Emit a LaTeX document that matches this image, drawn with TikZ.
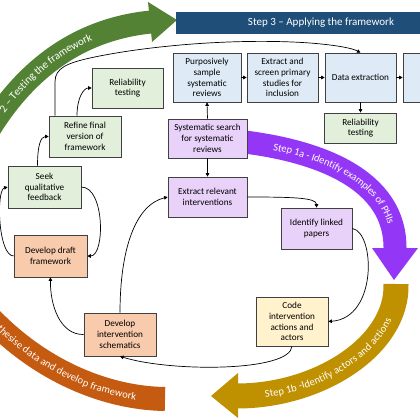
\documentclass[tikz,border=0pt]{standalone}
\usepackage{fontspec}
\setmainfont{Carlito}
\usetikzlibrary{arrows.meta,decorations.text}
\definecolor{boxgreen}{HTML}{E2EFDA}
\definecolor{boxblue}{HTML}{DEEBF7}
\definecolor{boxpurple}{HTML}{E9D2FA}
\definecolor{boxorange}{HTML}{F8CBAD}
\definecolor{boxgold}{HTML}{FFF2CC}
\definecolor{bannerblue}{HTML}{1F4E79}
\definecolor{arrgreen}{HTML}{548235}
\definecolor{arrpurple}{HTML}{9436F5}
\definecolor{arrgold}{HTML}{BF9000}
\definecolor{arrorange}{HTML}{C55A11}
\newcommand\bxfont{\fontsize{9.2}{10.8}\selectfont}
\newcommand\arwfont{\color{white}\fontsize{10.5}{12}\selectfont}
\newcommand\arwbigfont{\color{white}\fontsize{11}{12}\selectfont}
\newcommand\bnrfont{\fontsize{11}{13}\selectfont}
\begin{document}
\begin{tikzpicture}[x=1pt,y=-1pt,
  box/.style={draw=black!75, line width=0.6pt, align=center, inner sep=0pt, font=\bxfont},
  gbox/.style={box, fill=boxgreen},
  bbox/.style={box, fill=boxblue},
  pbox/.style={box, fill=boxpurple},
  obox/.style={box, fill=boxorange},
  ybox/.style={box, fill=boxgold},
  conn/.style={draw=black, line width=0.7pt, -{Triangle[length=3.6pt,width=3.6pt]}},
  band/.style={line width=#1, line cap=butt},
]
\useasboundingbox (0,0) rectangle (420,420);

% big process arrows
\draw[band=23pt, arrgreen] (-30,165) .. controls (10,80) and (70,30) .. (151,22);
\fill[arrgreen] (148,2) -- (177,20) -- (152,42) -- cycle;
\path[decorate, decoration={text along path, text={|\arwbigfont|2 – Testing the framework}, text align={right, right indent=62pt}, raise=-3.7pt}]
  (-30,165) .. controls (10,80) and (70,30) .. (151,22);

\draw[band=23pt, arrpurple] (236,141) .. controls (320,150) and (396,180) .. (395,249);
\fill[arrpurple] (372,248) -- (394,280) -- (418,248) -- cycle;
\path[decorate, decoration={text along path, text={|\arwfont|Step 1a - Identify examples of PHIs}, text align={left, left indent=38pt}, raise=-3.5pt}]
  (236,141) .. controls (320,150) and (396,180) .. (395,249);

\draw[band=25pt, arrgold] (396,284) .. controls (398,345) and (320,396) .. (237,396);
\fill[arrgold] (238,373) -- (211,396) -- (238,418) -- cycle;
\path[decorate, decoration={text along path, text={|\arwfont|Step 1b -Identify actors and actions}, text align={left, left indent=28pt}, raise=-3.5pt}]
  (237,396) .. controls (320,396) and (398,345) .. (396,284);

\draw[band=24pt, arrorange] (165,399) .. controls (100,398) and (25,365) .. (-30,295);
\path[decorate, decoration={text along path, text={|\arwfont|thesise data and develop framework}, text align={right, right indent=29pt}, raise=-3.5pt}]
  (-30,295) .. controls (25,365) and (100,398) .. (165,399);

% banner
\node[fill=bannerblue, minimum width=290pt, minimum height=22pt, inner sep=0pt, text=white, font=\bnrfont] (banner) at (321,23) {Step 3 – Applying the framework};

% boxes
\node[gbox, minimum width=71pt, minimum height=40pt] (rel1) at (127.5,88) {Reliability\\testing};
\node[gbox, minimum width=72pt, minimum height=41pt] (refine) at (85,136.5) {Refine final\\version of\\framework};
\node[gbox, minimum width=73pt, minimum height=42pt] (seek) at (44.5,187) {Seek\\qualitative\\feedback};
\node[obox, minimum width=73pt, minimum height=42pt] (draft) at (50.5,256) {Develop draft\\framework};
\node[obox, minimum width=72pt, minimum height=43pt] (schem) at (120,334.5) {Develop\\intervention\\schematics};
\node[ybox, minimum width=72pt, minimum height=49pt] (code) at (292,321.5) {Code\\intervention\\actions and\\actors};
\node[pbox, minimum width=71pt, minimum height=41pt] (identify) at (316.5,228.5) {Identify linked\\papers};
\node[pbox, minimum width=79pt, minimum height=40pt] (extrel) at (207.5,197) {Extract relevant\\interventions};
\node[pbox, minimum width=79pt, minimum height=39pt] (syssearch) at (207.5,138.5) {Systematic search\\for systematic\\reviews};
\node[bbox, minimum width=68pt, minimum height=49pt] (purpos) at (207,77.5) {Purposively\\sample\\systematic\\reviews};
\node[bbox, minimum width=71pt, minimum height=49pt] (extscreen) at (282.5,77.5) {Extract and\\screen primary\\studies for\\inclusion};
\node[bbox, minimum width=71pt, minimum height=49pt] (dataext) at (360.5,77.5) {Data extraction};
\node[bbox, minimum width=40pt, minimum height=49pt] (nextbox) at (423,77.5) {};
\node[gbox, minimum width=72pt, minimum height=30pt] (rel2) at (360.5,128) {Reliability\\testing};

% connectors
\draw[conn] (syssearch.north) -- (purpos.south);
\draw[conn] (purpos.east) -- (extscreen.west);
\draw[conn] (extscreen.east) -- (dataext.west);
\draw[conn] (dataext.east) -- (nextbox.west);
\draw[conn] (dataext.south) -- (rel2.north);
\draw[conn] (syssearch.south) -- (extrel.north);
\draw[conn] (extrel.east) .. controls +(45,0) and +(0,-10) .. (identify.north);
\draw[conn] (identify.east) .. controls (375,232) and (378,318) .. (code.east);
\draw[conn] (code.south) .. controls (290,372) and (170,372) .. (schem.south);
\draw[conn] (schem.north) .. controls (120,250) and (135,205) .. (extrel.west);
\draw[conn] (schem.west) .. controls (60,335) and (50,305) .. (draft.south);
\draw[conn] (draft.west) .. controls (-2,256) and (-4,190) .. (seek.west);
\draw[conn] (seek.east) .. controls (105,187) and (105,256) .. (draft.east);
\draw[conn] ([xshift=-7pt]seek.north) .. controls +(0,-20) and +(-8,0) .. (refine.west);
\draw[conn] ([xshift=-8pt]refine.north) .. controls +(0,-18) and +(-8,0) .. (rel1.west);
\draw[conn] ([xshift=-30pt]refine.north) -- ++(0,-34) .. controls +(0,-14) and (68,63) .. (90,58)
  .. controls (150,45) and (240,38) .. (310,43) .. controls (335,45) and (352,48) .. (dataext.north);
\end{tikzpicture}
\end{document}
